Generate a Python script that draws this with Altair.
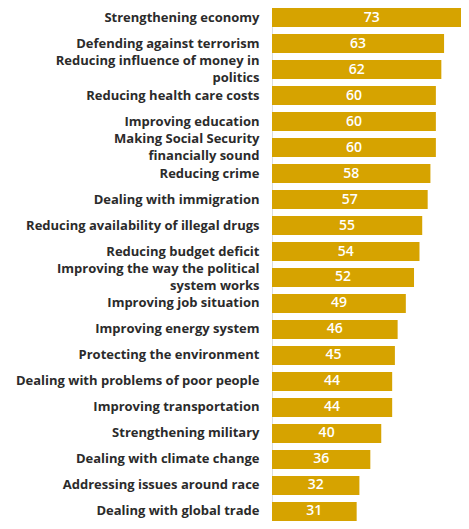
import altair as alt
import pandas as pd

issues = [
    "Strengthening economy",
    "Defending against terrorism",
    "Reducing influence of money in|politics",
    "Reducing health care costs",
    "Improving education",
    "Making Social Security|financially sound",
    "Reducing crime",
    "Dealing with immigration",
    "Reducing availability of illegal drugs",
    "Reducing budget deficit",
    "Improving the way the political|system works",
    "Improving job situation",
    "Improving energy system",
    "Protecting the environment",
    "Dealing with problems of poor people",
    "Improving transportation",
    "Strengthening military",
    "Dealing with climate change",
    "Addressing issues around race",
    "Dealing with global trade",
]
values = [73, 63, 62, 60, 60, 60, 58, 57, 55, 54, 52, 49, 46, 45, 44, 44, 40, 36, 32, 31]

df = pd.DataFrame({"issue": issues, "value": values})
df["mid"] = df["value"] / 2

FONT = "Open Sans"

y = alt.Y(
    "issue:N",
    sort=issues,
    title=None,
    scale=alt.Scale(paddingInner=0.269, paddingOuter=0),
    axis=alt.Axis(
        domain=False,
        ticks=False,
        labelExpr="split(datum.label, '|')",
        labelOffset=alt.expr("indexof(datum.label, '|') >= 0 ? -8.5 : 0"),
        labelFont=FONT,
        labelFontSize=13,
        labelFontWeight=700,
        labelColor="#2b2b2b",
        labelLineHeight=17,
        labelPadding=13,
        labelLimit=400,
    ),
)
x = alt.X(
    "value:Q",
    title=None,
    scale=alt.Scale(domain=[0, 69.2], nice=False, zero=True),
    axis=None,
)

bars = alt.Chart(df).mark_bar(color="#D6A300", clip=True).encode(y=y, x=x)
labels = alt.Chart(df).mark_text(
    color="#ffffff", font=FONT, fontSize=14, fontWeight=600, baseline="middle", align="center"
).encode(y=alt.Y("issue:N", sort=issues), x=alt.X("mid:Q"), text="value:Q")

chart = (
    alt.layer(bars, labels)
    .properties(
        width=189,
        height=513,
        autosize=alt.AutoSizeParams(type="none"),
        padding={"left": 264, "top": 0, "right": 0, "bottom": 0},
    )
    .configure_view(stroke=None)
    .configure(background="#ffffff")
)

chart.save("out.html", embed_options={"renderer": "svg", "actions": False})
